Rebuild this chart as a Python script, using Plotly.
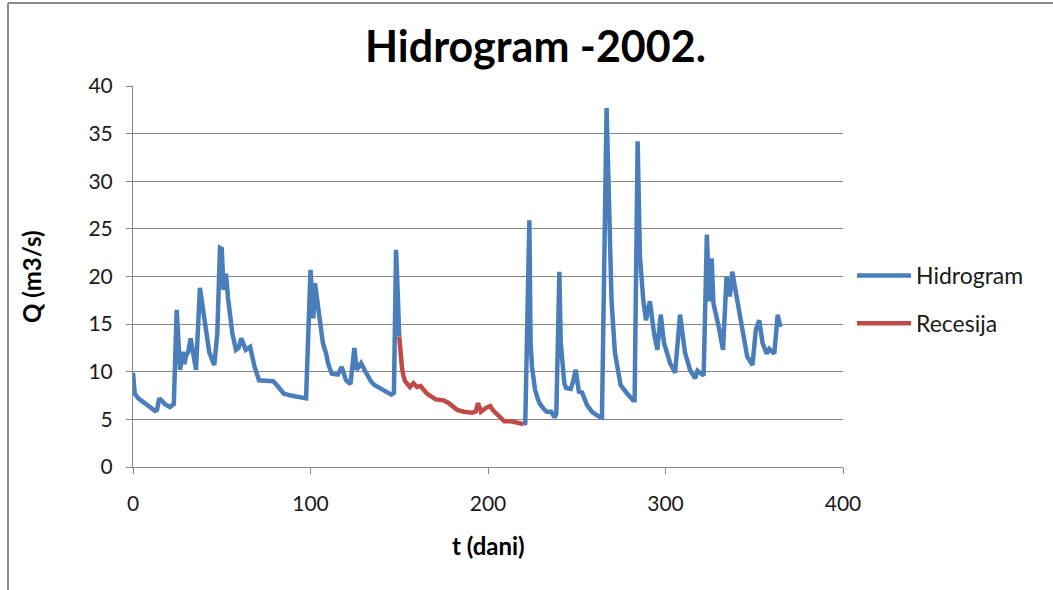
import plotly.graph_objects as go

# --- data ---
hidro1_t = [0, 1, 3, 6, 9, 12.4, 13.5, 14.8, 16, 18, 20.8, 23, 24.6, 25.5, 26.5, 28, 29, 30, 31, 32.5,
            34, 35.5, 37.7, 39, 41, 43, 45.8, 47.5, 49, 50, 51, 52.4, 53.5, 54.6, 56, 58, 59.5, 61, 63.5, 66,
            68.5, 71, 75, 79, 81, 85, 89, 93, 97.5, 100, 101.6, 102.5, 104, 105.5, 107, 108.8, 110, 112, 115.4,
            117.6, 120, 122.5, 124.7, 126, 128.5, 131.3, 134, 136, 140.8, 145.5, 147, 148.2, 149, 149.6, 150]
hidro1_q = [9.9, 7.7, 7.2, 6.8, 6.3, 5.9, 6.0, 7.2, 7.0, 6.6, 6.3, 6.6, 16.5, 13, 10.2, 12.1, 10.8, 11.8, 12.0, 13.5,
            12, 10.2, 18.8, 17, 14, 12, 10.7, 14, 23.0, 22.9, 18.6, 20.3, 17.8, 15.8, 14, 12.3, 12.5, 13.5, 12.3, 12.6,
            10.5, 9.1, 9.1, 9.0, 8.6, 7.7, 7.5, 7.4, 7.2, 20.7, 15.6, 19.3, 17.3, 15.0, 13.0, 11.9, 10.8, 9.8, 9.7,
            10.5, 9.1, 8.7, 12.5, 10.2, 10.9, 9.9, 9.0, 8.6, 8.1, 7.6, 7.8, 22.8, 19, 16, 13.7]

recesija_t = [150, 150.7, 151.5, 152.3, 153.3, 156, 158, 160, 162, 165.6, 170.5, 175, 178, 182.6, 186.4, 191, 193,
              194.4, 196, 198.8, 201.3, 202.6, 205.4, 209.2, 213, 216.7, 220]
recesija_q = [13.7, 11.8, 10.5, 9.6, 9.0, 8.4, 8.8, 8.4, 8.5, 7.7, 7.1, 7.0, 6.7, 6.0, 5.8, 5.7, 5.8,
              6.7, 5.8, 6.2, 6.4, 6.0, 5.5, 4.8, 4.8, 4.65, 4.5]

hidro2_t = [220, 221, 223.3, 224, 224.8, 225.6, 226.5, 228, 229, 231, 233, 235.6, 237.5, 238.5, 240.2, 241, 242,
            243, 244, 246.6, 248, 249.4, 251.2, 253, 255.8, 258.6, 262.4, 264.2, 266.8, 268.7, 269.6, 271.5,
            274.7, 278, 281.7, 282.6, 284.3, 285.6, 287.5, 289, 291.2, 293.5, 295.4, 297.3, 299.2, 302.6,
            305.4, 308.2, 311, 313.8, 316.7, 318, 321.5, 323.3, 324.7, 326, 327, 330, 332.4, 334.4, 336.3,
            337.6, 340.5, 343.3, 346, 349, 350.9, 352.8, 354.7, 357, 358.5, 361.3, 363.2, 364.7]
hidro2_q = [4.5, 4.6, 25.9, 13.0, 10.5, 9.2, 8.1, 7.2, 6.7, 6.2, 5.8, 5.8, 5.2, 5.6, 20.5, 13.0, 10.2,
            8.8, 8.3, 8.2, 9.0, 10.2, 7.9, 7.8, 6.5, 5.8, 5.3, 5.2, 37.7, 24.5, 17.5, 12.0,
            8.6, 7.8, 7.0, 7.0, 34.2, 22.1, 17.5, 15.4, 17.4, 14.1, 12.3, 16.0, 13.0, 10.9,
            9.9, 16.0, 12.0, 10.2, 9.3, 10.1, 9.6, 24.4, 17.4, 21.9, 17.2, 14.7, 12.3, 20.0, 17.9,
            20.5, 17.5, 14.0, 11.6, 10.7, 14.4, 15.4, 13.0, 11.9, 12.4, 11.9, 16.0, 14.7]

x_ticks = [0, 100, 200, 300, 400]
y_ticks = [0, 5, 10, 15, 20, 25, 30, 35, 40]

title_text = "Hidrogram -2002."
x_title = "t (dani)"
y_title = "Q (m3/s)"

BLUE = "#4A7EBB"
RED = "#BE4B48"
GRID = "#868686"
FONT = "Lato, 'Open Sans', sans-serif"
TXT = "#1a1a1a"

W, H = 1053, 590
L, R, T, B = 133, 843, 86, 467  # plot area pixels

fig = go.Figure()
fig.add_trace(go.Scatter(
    x=hidro1_t + [None] + hidro2_t, y=hidro1_q + [None] + hidro2_q,
    mode="lines", name="Hidrogram", line=dict(color=BLUE, width=4.5),
    legendgroup="a", connectgaps=False))
fig.add_trace(go.Scatter(
    x=recesija_t, y=recesija_q, mode="lines", name="Recesija",
    line=dict(color=RED, width=4.5), legendgroup="b"))

pw, ph = R - L, B - T
def px(xp):
    return (xp - L) / pw
def py(yp):
    return (B - yp) / ph

fig.update_layout(
    width=W, height=H,
    margin=dict(l=L, r=W - R, t=T, b=H - B, autoexpand=False),
    paper_bgcolor="white", plot_bgcolor="white",
    font=dict(family=FONT, color=TXT),
    showlegend=True,
    legend=dict(x=px(852), y=py(254), xanchor="left", yanchor="top",
                font=dict(size=23, family=FONT, color=TXT),
                traceorder="grouped", tracegroupgap=15, itemwidth=54,
                bgcolor="rgba(0,0,0,0)"),
    xaxis=dict(range=[0, 400], tickvals=x_ticks, showgrid=False, zeroline=False,
               showline=True, linecolor=GRID, linewidth=1,
               ticks="outside", ticklen=6, tickcolor=GRID,
               tickfont=dict(size=21, family=FONT, color=TXT),
               ticklabelstandoff=12),
    yaxis=dict(range=[0, 40], tickvals=y_ticks, showgrid=True, gridcolor=GRID, gridwidth=1,
               zeroline=False, showline=True, linecolor=GRID, linewidth=1,
               ticks="outside", ticklen=6, tickcolor=GRID,
               tickfont=dict(size=21, family=FONT, color=TXT),
               ticklabelstandoff=9),
    annotations=[
        dict(text=f"<b>{title_text}</b>", xref="paper", yref="paper", x=px(535), y=py(45),
             xanchor="center", yanchor="middle", showarrow=False,
             font=dict(size=43, family=FONT, color="#000000")),
        dict(text=f"<b>{x_title}</b>", xref="paper", yref="paper", x=px(488), y=py(545),
             xanchor="center", yanchor="middle", showarrow=False,
             font=dict(size=24, family=FONT, color="#000000")),
        dict(text=f"<b>{y_title}</b>", xref="paper", yref="paper", x=px(31), y=py(277),
             xanchor="center", yanchor="middle", showarrow=False, textangle=-90,
             font=dict(size=24, family=FONT, color="#000000")),
    ],
    shapes=[
        dict(type="line", xref="paper", yref="paper", x0=px(8), x1=px(1053), y0=py(3), y1=py(3),
             line=dict(color="#8c8c8c", width=2)),
        dict(type="line", xref="paper", yref="paper", x0=px(8), x1=px(8), y0=py(3), y1=py(590),
             line=dict(color="#8c8c8c", width=2)),
    ],
)

fig.write_html("out.html", config={"displayModeBar": False},
               post_script="document.body.style.margin='0';document.body.style.overflow='hidden';")
